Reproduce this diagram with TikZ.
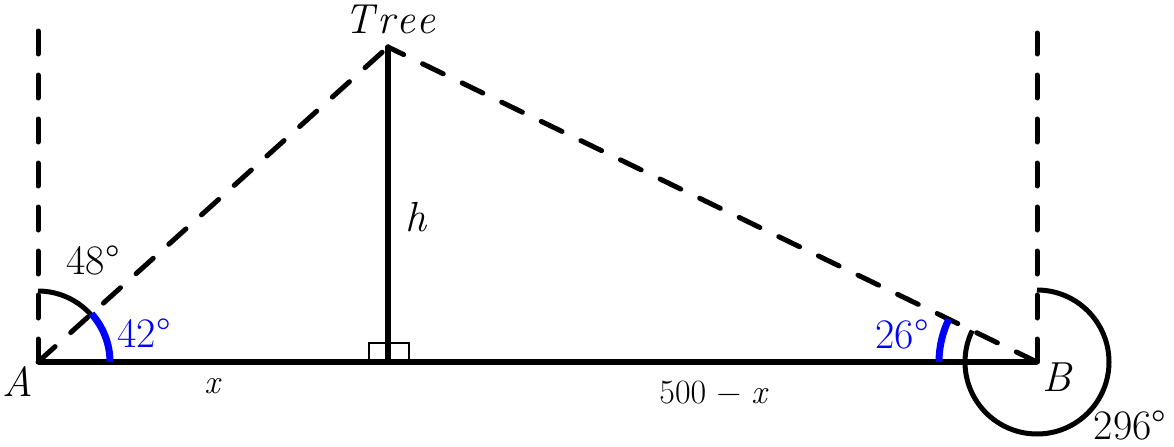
\documentclass[tikz,border=0pt]{standalone}
\usepackage{fontspec}
\begin{document}
\begin{tikzpicture}[x=0.5pt,y=0.5pt,
  dashline/.style={line width=2.5pt, dash pattern=on 11.5pt off 10.5pt, line cap=round},
  arcline/.style={line width=2.5pt},
  bluearc/.style={line width=3.5pt, blue},
  lbl/.style={font=\fontsize{21}{25}\selectfont, inner sep=0pt},
  smalllbl/.style={font=\fontsize{17}{20}\selectfont, inner sep=0pt}]
\useasboundingbox (0,0) rectangle (1174,446);
\coordinate (A) at (38,84);
\coordinate (B) at (1037,84);
\coordinate (T) at (388,399);
\coordinate (F) at (388,84);
\coordinate (Atop) at (38,424);
\coordinate (Btop) at (1037,413);
\draw[dashline] (A) -- (Atop);
\draw[dashline] (B) -- (Btop);
\draw[dashline] (A) -- (T);
\draw[dashline] (B) -- (T);
\draw[line width=0.8pt] (369,84) rectangle (409,103);
\draw[line width=3pt] (A) -- (B);
\draw[line width=2.6pt, line cap=round] (F) -- (T);
\draw[arcline] ([shift={(90:35.5pt)}]A) arc[start angle=90, end angle=42, radius=35.5pt];
\draw[bluearc] ([shift={(42:36pt)}]A) arc[start angle=42, end angle=0, radius=36pt];
\draw[bluearc] ([shift={(154.1:49pt)}]B) arc[start angle=154.1, end angle=180, radius=49pt];
\draw[arcline] ([shift={(90:36pt)}]B) arc[start angle=90, end angle=-205.9, radius=36pt];
\node[lbl] (treelbl) at (390,427) {\itshape T\kern1.5pt r\kern1pt e\kern0.5pt e};
\node[lbl] (hlbl) at (416,229) {\itshape h};
\node[lbl] (a48) at (93,186) {48°};
\node[lbl, text=blue] (a42) at (144,113) {42°};
\node[lbl] (Albl) at (18,64) {\itshape A};
\node[smalllbl] (xlbl) at (212,60) {\itshape x};
\node[smalllbl] (rest) at (713,53) {500 − {\itshape x}};
\node[lbl, text=blue] (a26) at (902,112) {26°};
\node[lbl] (Blbl) at (1057,69) {\itshape B};
\node[lbl] (a296) at (1130,21) {296°};
\end{tikzpicture}
\end{document}
